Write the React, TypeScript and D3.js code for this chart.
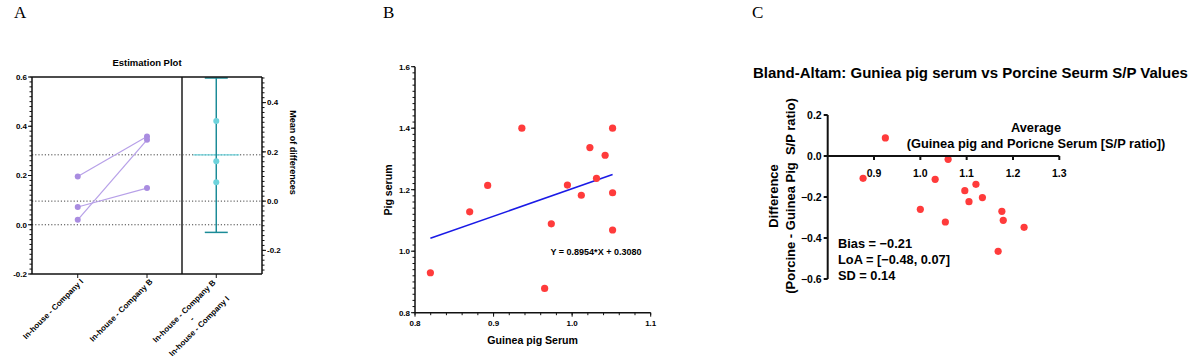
import React from 'react';
import * as d3 from 'd3';

// Panel A - estimation plot (paired values)
const categoriesA = ['In-house - Company I', 'In-house - Company B', 'In-house - Company B\n-\nIn-house - Company I'];
const groupI = [0.196, 0.072, 0.02];
const groupB = [0.358, 0.149, 0.345];
const ciLow = -0.127;
const ciHigh = 0.5;
const leftTicksA = [-0.2, 0.0, 0.2, 0.4, 0.6];
const rightTicksA = [-0.2, 0.0, 0.2, 0.4];

// Panel B - scatter with regression
const guineaPig = [0.936, 1.0515, 1.0226, 1.042, 1.031, 0.994, 0.8925, 1.0117, 1.0515, 0.8696, 0.9735, 1.0515, 0.8196, 0.965];
const pigSerum = [1.4, 1.4, 1.337, 1.312, 1.237, 1.215, 1.214, 1.182, 1.19, 1.128, 1.089, 1.069, 0.93, 0.879];
const slope = 0.8954;
const intercept = 0.308;
const xTicksB = [0.8, 0.9, 1.0, 1.1];
const yTicksB = [0.8, 1.0, 1.2, 1.4, 1.6];

// Panel C - Bland-Altman
const averages = [0.9245, 0.8764, 1.032, 1.06, 1.096, 1.12, 1.134, 1.105, 1.0, 1.054, 1.176, 1.179, 1.224, 1.168];
const differences = [0.088, -0.109, -0.114, -0.016, -0.169, -0.138, -0.203, -0.223, -0.26, -0.322, -0.27, -0.314, -0.348, -0.465];
const xTicksC = [0.9, 1.0, 1.1, 1.2, 1.3];
const yTicksC = [0.2, 0.0, -0.2, -0.4, -0.6];
const statsC = ['Bias = \u22120.21', 'LoA = [\u22120.48, 0.07]', 'SD = 0.14'];

const SANS = '"Liberation Sans", Arial, sans-serif';
const SERIF = '"Liberation Serif", "Times New Roman", serif';
const RED = '#ff3b3b';
const PURPLE = '#a98ce0';
const PURPLE_LINE = '#b7a0e8';
const TEAL = '#1b8b97';
const CYAN = '#6ed3dc';

const fmt1 = d3.format('.1f');
const minus = (s: string) => s.replace('\u2212', '-');

function PanelA() {
  const left = 32, right = 262, divider = 182, top = 77, bottom = 274;
  const yL = d3.scaleLinear().domain([-0.2, 0.6]).range([bottom, top]);
  const m1 = d3.mean(groupI)!;
  const m2 = d3.mean(groupB)!;
  // right axis: zero sits on the mean of the first group
  const yR = d3.scaleLinear().domain([-0.2 - m1, 0.6 - m1]).range([bottom, top]);
  const x = d3.scalePoint<string>().domain(categoriesA).range([left, right]).padding(0.66);
  const diffs = groupB.map((v, i) => v - groupI[i]);
  const meanDiff = d3.mean(diffs)!;
  const minorL = d3.range(-0.2, 0.6001, 0.02);
  const [r0, r1] = yR.domain();
  const minorR = d3.range(Math.ceil(r0 / 0.02) * 0.02, r1 + 1e-6, 0.02);
  const xd = x(categoriesA[2])!;

  return (
    <g>
      <text x={14} y={18} fontFamily={SERIF} fontSize={17}>A</text>
      <text x={147} y={65.5} textAnchor="middle" fontFamily={SANS} fontWeight="bold" fontSize={9.5}>Estimation Plot</text>
      {[0, m1, m2].map((v, i) => (
        <line key={i} x1={left} x2={right} y1={yL(v)} y2={yL(v)} stroke="#444" strokeWidth={1} strokeDasharray="1.2,2" />
      ))}
      {groupI.map((v, i) => (
        <line key={i} x1={x(categoriesA[0])} x2={x(categoriesA[1])} y1={yL(v)} y2={yL(groupB[i])} stroke={PURPLE_LINE} strokeWidth={1.2} />
      ))}
      {groupI.map((v, i) => (
        <circle key={'a' + i} cx={x(categoriesA[0])} cy={yL(v)} r={3} fill={PURPLE} />
      ))}
      {groupB.map((v, i) => (
        <circle key={'b' + i} cx={x(categoriesA[1])} cy={yL(v)} r={3} fill={PURPLE} />
      ))}
      <line x1={xd - 23} x2={xd + 23} y1={yR(meanDiff)} y2={yR(meanDiff)} stroke={CYAN} strokeWidth={1.3} />
      <line x1={xd} x2={xd} y1={yR(ciHigh)} y2={yR(ciLow)} stroke={TEAL} strokeWidth={1.5} />
      <line x1={xd - 11.5} x2={xd + 11.5} y1={yR(ciHigh)} y2={yR(ciHigh)} stroke={TEAL} strokeWidth={1.5} />
      <line x1={xd - 11.5} x2={xd + 11.5} y1={yR(ciLow)} y2={yR(ciLow)} stroke={TEAL} strokeWidth={1.5} />
      {diffs.map((d, i) => (
        <circle key={'d' + i} cx={xd} cy={yR(d)} r={3} fill={CYAN} />
      ))}
      <line x1={divider} x2={divider} y1={top} y2={bottom} stroke="#555" strokeWidth={2} />
      <line x1={left} x2={right} y1={top} y2={top} stroke="#111" strokeWidth={1.5} />
      <line x1={left} x2={right} y1={bottom} y2={bottom} stroke="#111" strokeWidth={1.5} />
      <line x1={left} x2={left} y1={top} y2={bottom} stroke="#111" strokeWidth={1.5} />
      <line x1={right} x2={right} y1={top} y2={bottom} stroke="#111" strokeWidth={1.5} />
      {minorL.map((v, i) => (
        <line key={'ml' + i} x1={left - 2.5} x2={left} y1={yL(v)} y2={yL(v)} stroke="#111" strokeWidth={1} />
      ))}
      {leftTicksA.map((v) => (
        <g key={'lt' + v}>
          <line x1={left - 4} x2={left} y1={yL(v)} y2={yL(v)} stroke="#111" strokeWidth={1} />
          <text x={left - 5} y={yL(v)} dy="0.35em" textAnchor="end" fontFamily={SANS} fontWeight="bold" fontSize={8}>{minus(fmt1(v))}</text>
        </g>
      ))}
      {minorR.map((v, i) => (
        <line key={'mr' + i} x1={right} x2={right + 2.5} y1={yR(v)} y2={yR(v)} stroke="#111" strokeWidth={1} />
      ))}
      {rightTicksA.map((v) => (
        <g key={'rt' + v}>
          <line x1={right} x2={right + 4} y1={yR(v)} y2={yR(v)} stroke="#111" strokeWidth={1} />
          <text x={right + 5} y={yR(v)} dy="0.35em" fontFamily={SANS} fontWeight="bold" fontSize={8}>{minus(fmt1(v))}</text>
        </g>
      ))}
      <text transform={`translate(290,${(top + bottom) / 2 - 23}) rotate(90)`} textAnchor="middle" fontFamily={SANS} fontWeight="bold" fontSize={9}>Mean of differences</text>
      {categoriesA.map((c) => {
        const lines = c.split('\n');
        const cx = x(c)!;
        return (
          <g key={c}>
            <line x1={cx} x2={cx} y1={bottom} y2={bottom + 4} stroke="#111" strokeWidth={1} />
            <g transform={`translate(${cx},${bottom}) rotate(-45)`}>
              {lines.length === 1 ? (
                <text x={-1.5} y={10} textAnchor="end" fontFamily={SANS} fontWeight="bold" fontSize={8}>{c}</text>
              ) : (
                lines.map((l, i) => (
                  <text key={i} x={-49} y={6.3 + i * 10.6} textAnchor="middle" fontFamily={SANS} fontWeight="bold" fontSize={8}>{l}</text>
                ))
              )}
            </g>
          </g>
        );
      })}
    </g>
  );
}

function PanelB() {
  const x = d3.scaleLinear().domain([0.8, 1.1]).range([415, 650.7]);
  const y = d3.scaleLinear().domain([0.8, 1.6]).range([312.7, 66.7]);
  const x0 = x.range()[0];
  const y0 = y.range()[0];
  const minorX = d3.range(0.8, 1.1001, 0.02);
  const minorY = d3.range(0.8, 1.6001, 0.02);
  const xMin = d3.min(guineaPig)!;
  const xMax = d3.max(guineaPig)!;
  return (
    <g>
      <text x={383} y={18} fontFamily={SERIF} fontSize={17}>B</text>
      <line x1={x(xMin)} x2={x(xMax)} y1={y(slope * xMin + intercept)} y2={y(slope * xMax + intercept)} stroke="#1a1ae6" strokeWidth={1.5} />
      {guineaPig.map((g, i) => (
        <circle key={i} cx={x(g)} cy={y(pigSerum[i])} r={3.6} fill={RED} />
      ))}
      <line x1={x0} x2={x0} y1={y.range()[1]} y2={y0} stroke="#111" strokeWidth={1.5} />
      <line x1={x0} x2={x.range()[1]} y1={y0} y2={y0} stroke="#111" strokeWidth={1.5} />
      {minorY.map((v, i) => (
        <line key={'my' + i} x1={x0 - 2.5} x2={x0} y1={y(v)} y2={y(v)} stroke="#111" strokeWidth={1} />
      ))}
      {yTicksB.map((v) => (
        <g key={'yt' + v}>
          <line x1={x0 - 4} x2={x0} y1={y(v)} y2={y(v)} stroke="#111" strokeWidth={1} />
          <text x={x0 - 5} y={y(v)} dy="0.35em" textAnchor="end" fontFamily={SANS} fontWeight="bold" fontSize={8}>{fmt1(v)}</text>
        </g>
      ))}
      {minorX.map((v, i) => (
        <line key={'mx' + i} x1={x(v)} x2={x(v)} y1={y0} y2={y0 + 2.5} stroke="#111" strokeWidth={1} />
      ))}
      {xTicksB.map((v) => (
        <g key={'xt' + v}>
          <line x1={x(v)} x2={x(v)} y1={y0} y2={y0 + 4} stroke="#111" strokeWidth={1} />
          <text x={x(v)} y={y0 + 13.5} textAnchor="middle" fontFamily={SANS} fontWeight="bold" fontSize={8}>{fmt1(v)}</text>
        </g>
      ))}
      <text x={550.5} y={255} fontFamily={SANS} fontWeight="bold" fontSize={9}>Y = 0.8954*X + 0.3080</text>
      <text x={532.7} y={344} textAnchor="middle" fontFamily={SANS} fontWeight="bold" fontSize={10.6}>Guinea pig Serum</text>
      <text transform="translate(392,190) rotate(-90)" textAnchor="middle" fontFamily={SANS} fontWeight="bold" fontSize={10.6}>Pig serum</text>
    </g>
  );
}

function PanelC() {
  const x = d3.scaleLinear().domain([0.8, 1.3]).range([827.7, 1059.3]);
  const y = d3.scaleLinear().domain([-0.6, 0.2]).range([279, 115]);
  const x0 = x.range()[0];
  const yz = y(0);
  return (
    <g>
      <text x={752} y={18} fontFamily={SERIF} fontSize={17}>C</text>
      <text x={753} y={78} fontFamily={SANS} fontWeight="bold" fontSize={15}>Bland-Altam: Guniea pig serum vs Porcine Seurm S/P Values</text>
      {averages.map((a, i) => (
        <circle key={i} cx={x(a)} cy={y(differences[i])} r={3.6} fill={RED} />
      ))}
      <line x1={x0} x2={x0} y1={y(0.2)} y2={y(-0.6)} stroke="#111" strokeWidth={2} />
      <line x1={x0} x2={x.range()[1]} y1={yz} y2={yz} stroke="#111" strokeWidth={2} />
      {yTicksC.map((v) => (
        <g key={'yc' + v}>
          <line x1={x0 - 4} x2={x0} y1={y(v)} y2={y(v)} stroke="#111" strokeWidth={2} />
          <text x={x0 - 6} y={y(v)} dy="0.35em" textAnchor="end" fontFamily={SANS} fontWeight="bold" fontSize={10.5}>{fmt1(v)}</text>
        </g>
      ))}
      {xTicksC.map((v) => (
        <g key={'xc' + v}>
          <line x1={x(v)} x2={x(v)} y1={yz} y2={yz + 4} stroke="#111" strokeWidth={2} />
          <text x={x(v)} y={yz + 20.5} textAnchor="middle" fontFamily={SANS} fontWeight="bold" fontSize={10.5}>{fmt1(v)}</text>
        </g>
      ))}
      <text x={1036} y={131.5} textAnchor="middle" fontFamily={SANS} fontWeight="bold" fontSize={12.8}>Average</text>
      <text x={1036} y={147.5} textAnchor="middle" fontFamily={SANS} fontWeight="bold" fontSize={12.8}>(Guinea pig and Poricne Serum [S/P ratio])</text>
      <text transform="translate(777.5,196) rotate(-90)" textAnchor="middle" fontFamily={SANS} fontWeight="bold" fontSize={13}>Difference</text>
      <text transform="translate(794.5,196) rotate(-90)" textAnchor="middle" fontFamily={SANS} fontWeight="bold" fontSize={13} style={{ whiteSpace: 'pre' }}>(Porcine - Guinea Pig  S/P ratio)</text>
      {statsC.map((s, i) => (
        <text key={s} x={838} y={248 + i * 16.2} fontFamily={SANS} fontWeight="bold" fontSize={12.8}>{s}</text>
      ))}
    </g>
  );
}

export default function App() {
  return (
    <svg width={1194} height={360} style={{ position: 'absolute', left: 0, top: 0, background: '#fff' }}>
      <PanelA />
      <PanelB />
      <PanelC />
    </svg>
  );
}
